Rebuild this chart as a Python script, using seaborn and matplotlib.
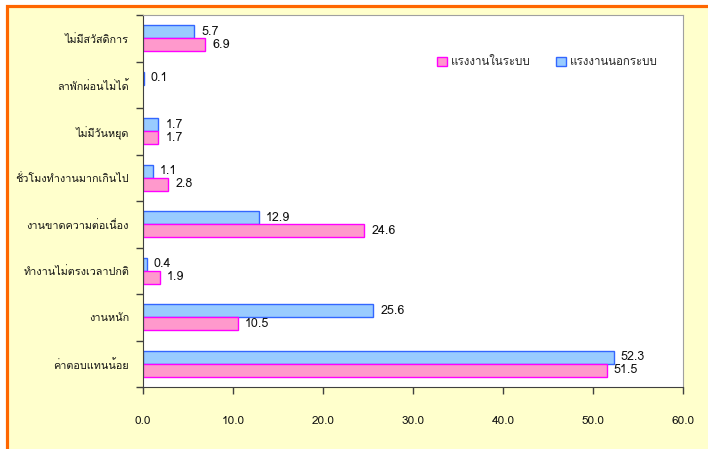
import pandas as pd
import numpy as np
import matplotlib
matplotlib.use("Agg")
import matplotlib.pyplot as plt
import seaborn as sns
from matplotlib import font_manager
from matplotlib.ft2font import FT2Font
from matplotlib.patches import Patch, Rectangle

# Data (top to bottom)
categories = ['ไม่มีสวัสดิการ', 'ลาพักผ่อนไม่ได้', 'ไม่มีวันหยุด', 'ชั่วโมงทำงานมากเกินไป',
              'งานขาดความต่อเนื่อง', 'ทำงานไม่ตรงเวลาปกติ', 'งานหนัก', 'ค่าตอบแทนน้อย']
informal = [5.7, 0.1, 1.7, 1.1, 12.9, 0.4, 25.6, 52.3]     # แรงงานนอกระบบ
formal = [6.9, np.nan, 1.7, 2.8, 24.6, 1.9, 10.5, 51.5]    # แรงงานในระบบ
series_names = ['แรงงานนอกระบบ', 'แรงงานในระบบ']
x_ticks = [0, 10, 20, 30, 40, 50, 60]

fill_colors = {'แรงงานนอกระบบ': '#99CCFF', 'แรงงานในระบบ': '#FF99CC'}
edge_colors = {'แรงงานนอกระบบ': '#3366FF', 'แรงงานในระบบ': '#FF00FF'}

df = pd.DataFrame({
    'category': categories * 2,
    'series': [series_names[0]] * len(categories) + [series_names[1]] * len(categories),
    'value': informal + formal,
})

sns.set_style("white")

# look for a font that has Thai glyphs
thai_font = None
for f in font_manager.fontManager.ttflist:
    try:
        if 0x0E01 in FT2Font(f.fname).get_charmap():
            thai_font = f.name
            break
    except Exception:
        pass
families = ([thai_font] if thai_font else []) + ['DejaVu Sans']
plt.rcParams['font.family'] = families

fig = plt.figure(figsize=(7.08, 4.49), dpi=100, facecolor='white')
# yellow panel with the orange frame (cut off on the right and bottom)
fig.patches.append(Rectangle((6.5 / 708, -0.1), 1.2, 1.1 - 6.5 / 449,
                             transform=fig.transFigure, facecolor='#FFFFCC',
                             edgecolor='#FF6600', linewidth=2.3, zorder=-5))
ax = fig.add_axes([143 / 708, 1 - 387 / 449, 540 / 708, 372 / 449])
ax.set_zorder(2)
ax.set_facecolor('white')

sns.barplot(data=df, y='category', x='value', hue='series', hue_order=series_names,
            order=categories, palette=fill_colors, saturation=1, width=0.56, orient='h',
            errorbar=None, legend=False, ax=ax)

for name, cont in zip(series_names, ax.containers):
    for bar in cont:
        bar.set_edgecolor(edge_colors[name])
        bar.set_linewidth(1.0)
    ax.bar_label(cont, fmt='%.1f', padding=5, fontsize=9, color='#111111')

ax.set_xlim(0, 60)
ax.set_ylim(len(categories) - 0.5, -0.5)
ax.set_xticks(x_ticks)
ax.set_xticklabels([f'{t:.1f}' for t in x_ticks], fontsize=8.5, color='#111111')
ax.tick_params(axis='x', bottom=True, direction='out', length=5, width=1,
               color='#404040', pad=16)
ax.tick_params(axis='y', which='major', left=True, length=0, pad=10, labelsize=7.8,
               labelcolor='#111111')
ax.set_yticks(np.arange(-0.5, len(categories), 1), minor=True)
ax.tick_params(axis='y', which='minor', left=True, direction='out', length=5, width=1,
               color='#404040')
ax.set_xlabel('')
ax.set_ylabel('')

for side in ['left', 'bottom']:
    ax.spines[side].set_color('#404040')
for side in ['top', 'right']:
    ax.spines[side].set_color('#A0A0A0')

handles = [Patch(facecolor=fill_colors[n], edgecolor=edge_colors[n], linewidth=1.0)
           for n in series_names[::-1]]
ax.legend(handles, series_names[::-1], loc='center right', bbox_to_anchor=(0.972, 0.874),
          ncol=2, frameon=False, fontsize=8.3, handlelength=0.9, handleheight=0.9,
          handletextpad=0.3, columnspacing=2.2)

plt.savefig('out.png', dpi=100)
